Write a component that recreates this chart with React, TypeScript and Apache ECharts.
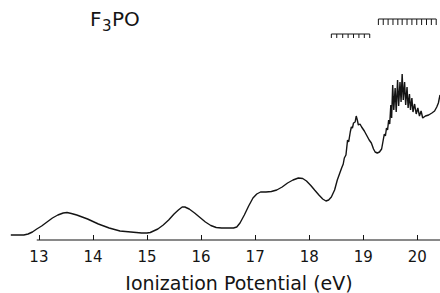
import React, { useEffect, useRef } from "react";
import * as echarts from "echarts";

const energy = [
  12.48, 12.6, 12.72, 12.8, 12.88, 12.96, 13.05, 13.15, 13.25, 13.35, 13.45, 13.52, 13.6, 13.7, 13.8, 13.9,
  14.0, 14.1, 14.2, 14.3, 14.4, 14.5, 14.6, 14.7, 14.8, 14.9, 15.0, 15.06, 15.12, 15.2, 15.3, 15.4, 15.5,
  15.58, 15.65, 15.7, 15.78, 15.88, 15.98, 16.08, 16.18, 16.28, 16.38, 16.5, 16.6, 16.66, 16.72, 16.8,
  16.88, 16.96, 17.03, 17.1, 17.2, 17.3, 17.4, 17.5, 17.6, 17.7, 17.8, 17.88, 17.95, 18.03, 18.1, 18.18,
  18.25, 18.31, 18.36, 18.41, 18.47, 18.52, 18.56, 18.6, 18.63, 18.65, 18.68, 18.71, 18.73, 18.76, 18.78,
  18.8, 18.82, 18.85, 18.87, 18.89, 18.91, 18.94, 18.97, 19.02, 19.06, 19.11, 19.15, 19.19, 19.22, 19.26,
  19.3, 19.34, 19.37, 19.39, 19.41, 19.43, 19.45, 19.47, 19.49, 19.51, 19.525, 19.545, 19.565, 19.59, 19.61,
  19.635, 19.655, 19.68, 19.7, 19.72, 19.74, 19.765, 19.785, 19.81, 19.83, 19.855, 19.875, 19.9, 19.92,
  19.95, 19.98, 20.01, 20.04, 20.07, 20.1, 20.15, 20.21, 20.27, 20.32, 20.36, 20.39, 20.42,
];
const intensity = [
  5, 5, 5, 6, 8, 11, 14, 18, 22, 25, 27, 27.5, 26.5, 25, 23, 21,
  18.5, 16, 14, 12, 10.5, 9, 8.5, 8, 7.5, 7, 7, 7.5, 9, 11, 15, 20, 26,
  30, 33, 33, 31, 27, 22.5, 18, 14.5, 12.5, 12, 12, 12, 13, 17, 25,
  34, 42, 46, 48, 48, 48.5, 50, 53, 57, 60, 62, 61.5, 59, 54.5, 50, 45,
  41, 39, 40, 43, 50, 60, 66, 72, 76, 82, 85, 100, 98, 108, 113,
  112, 117, 118, 124, 120, 115, 116, 113, 109, 105, 100, 97, 91, 88, 87,
  88, 91, 100, 106, 104, 112, 110, 120, 116, 135, 122, 155, 130, 152, 128,
  160, 134, 158, 138, 166, 140, 158, 135, 153, 132, 146, 130, 142, 128,
  136, 126, 132, 124, 129, 122, 124, 125, 127, 129, 133, 137, 145,
];

const tickValues = [13, 14, 15, 16, 17, 18, 19, 20];
const leftComb = [18.41, 18.51, 18.62, 18.72, 18.82, 18.92, 19.02, 19.12];
const rightComb = [19.28, 19.37, 19.46, 19.55, 19.64, 19.72, 19.81, 19.9, 19.99, 20.08, 20.17, 20.26, 20.35];
const leftCombLevel = [206, 202];
const rightCombLevel = [221, 215];
const axisRange = [12.96, 20.42];

const FONT = "'DejaVu Sans', 'Noto Sans', sans-serif";
const INK = "#141414";

export default function App() {
  const ref = useRef<HTMLDivElement>(null);
  useEffect(() => {
    if (!ref.current) return;
    const chart = echarts.init(ref.current, null, { renderer: "svg" });
    const toothItem = (params: any, api: any) => {
      const p1 = api.coord([api.value(0), api.value(1)]);
      const p2 = api.coord([api.value(0), api.value(2)]);
      return {
        type: "line",
        shape: { x1: p1[0], y1: p1[1], x2: p2[0], y2: p2[1] },
        style: { stroke: INK, lineWidth: 1 },
      };
    };
    chart.setOption({
      animation: false,
      backgroundColor: "#ffffff",
      grid: { left: 0, right: 0, top: 0, bottom: 53 },
      xAxis: {
        type: "value",
        min: 12.28,
        max: 20.42,
        axisLine: { show: false },
        splitLine: { show: false },
        axisTick: {
          show: true,
          customValues: tickValues,
          inside: true,
          length: 5,
          lineStyle: { color: INK, width: 1 },
        },
        axisLabel: {
          customValues: tickValues,
          margin: 9,
          fontSize: 15,
          color: INK,
          fontFamily: FONT,
        },
      },
      yAxis: { type: "value", min: 0, max: 240, show: false },
      graphic: [
        {
          type: "group",
          x: 90,
          y: 9,
          children: [
            { type: "text", x: 0, y: 0, style: { text: "F", font: `20px ${FONT}`, fill: INK } },
            { type: "text", x: 12, y: 9, style: { text: "3", font: `15px ${FONT}`, fill: INK } },
            { type: "text", x: 22, y: 0, style: { text: "PO", font: `20px ${FONT}`, fill: INK } },
          ],
        },
        {
          type: "text",
          x: 239,
          y: 283,
          style: {
            text: "Ionization Potential (eV)",
            font: `19px ${FONT}`,
            fill: INK,
            align: "center",
            verticalAlign: "middle",
          },
        },
      ],
      series: [
        {
          type: "line",
          data: energy.map((e, i) => [e, intensity[i]]),
          showSymbol: false,
          symbol: "none",
          lineStyle: { color: INK, width: 1.4 },
          clip: false,
        },
        {
          type: "line",
          data: axisRange.map((e) => [e, 0]),
          symbol: "none",
          lineStyle: { color: INK, width: 1.2 },
          clip: false,
        },
        {
          type: "line",
          data: [leftComb[0], leftComb[leftComb.length - 1]].map((e) => [e, leftCombLevel[0]]),
          symbol: "none",
          lineStyle: { color: INK, width: 1 },
        },
        {
          type: "line",
          data: [rightComb[0], rightComb[rightComb.length - 1]].map((e) => [e, rightCombLevel[0]]),
          symbol: "none",
          lineStyle: { color: INK, width: 1 },
        },
        {
          type: "custom",
          renderItem: toothItem,
          data: leftComb.map((e) => [e, leftCombLevel[0], leftCombLevel[1]]),
        },
        {
          type: "custom",
          renderItem: toothItem,
          data: rightComb.map((e) => [e, rightCombLevel[0], rightCombLevel[1]]),
        },
      ],
    });
    return () => chart.dispose();
  }, []);
  return (
    <div
      ref={ref}
      style={{ position: "absolute", left: 0, top: 0, width: 440, height: 293, background: "#fff" }}
    />
  );
}
